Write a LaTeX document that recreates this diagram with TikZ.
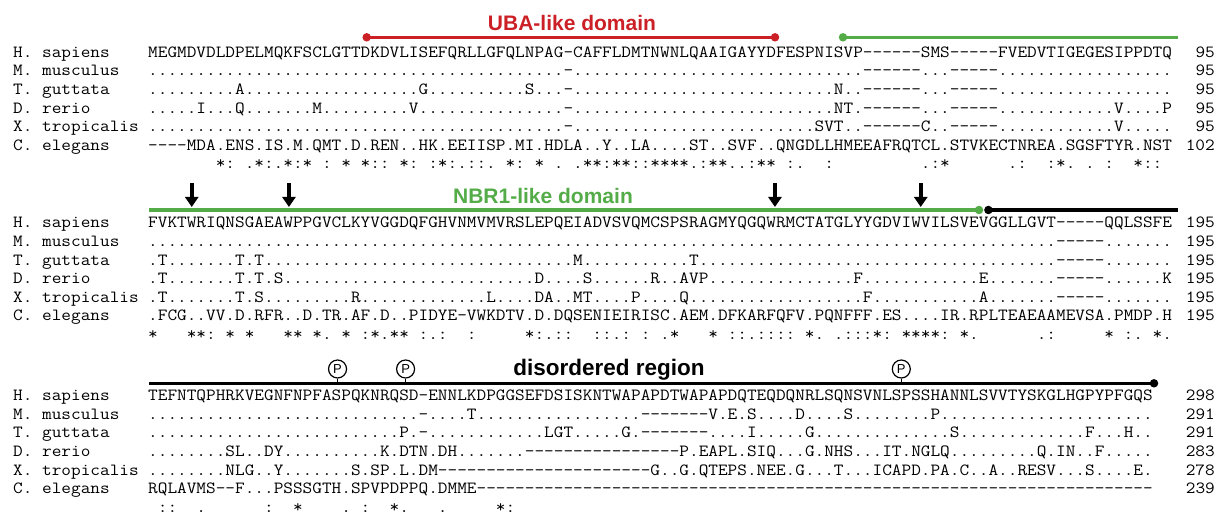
\documentclass[tikz,border=0pt]{standalone}
\usepackage{fontspec}
\setmainfont{Liberation Sans}
\setsansfont{Liberation Sans}
\setmonofont{Latin Modern Mono}[FakeStretch=1.1]
\usetikzlibrary{arrows.meta}

\definecolor{ubared}{RGB}{204,32,39}
\definecolor{nbrgreen}{RGB}{84,172,72}

% #1 copies of the character #2
\newcommand\seqrun[2]{\ifnum#1>0 #2\expandafter\seqrun\expandafter{\the\numexpr#1-1\relax}{#2}\fi}
\newcommand\dts[1]{\seqrun{#1}{.}}
\newcommand\gps[1]{\seqrun{#1}{-}}
\newcommand\sps[1]{\seqrun{#1}{~}}

% one line of the alignment: name, baseline, species, residues, last position
\newcommand\seqrow[5]{%
  \node[seqtext] (#1-sp) at (13,#2) {#3};
  \node[seqtext] (#1) at (148,#2) {#4};
  \node[seqnum] (#1-no) at (1215,#2) {#5};}

\tikzset{
  seqtext/.style={anchor=base west,inner sep=0pt,font=\ttfamily\fontsize{17.05}{18}\selectfont},
  seqnum/.style={seqtext,anchor=base east},
  domline/.style={line width=3.3pt},
  domend/.style={circle,fill,inner sep=0pt,minimum size=8.5pt},
  domlabel/.style={anchor=base,inner sep=0pt,font=\sffamily\bfseries\fontsize{21}{21}\selectfont},
  psite/.style={circle,draw,line width=1.2pt,minimum size=18pt,inner sep=0pt,font=\sffamily\fontsize{13}{13}\selectfont},
  trparrow/.style={-{Triangle[width=13pt,length=10pt]},line width=4pt}
}
\frenchspacing

\begin{document}
\begin{tikzpicture}[x=1pt,y=-1pt]
\useasboundingbox (0,0) rectangle (1223,518);

% block 1 (1-95)
\coordinate (uba-s) at (366.7,37.3);
\coordinate (uba-e) at (775,37.3);
\draw[domline,ubared] (uba-s) -- (uba-e);
\node[domend,ubared] (uba-s-dot) at (uba-s) {};
\node[domend,ubared] (uba-e-dot) at (uba-e) {};
\node[domlabel,ubared] (uba-lab) at (572,30.5) {UBA-like domain};
\coordinate (nbr-s) at (843,37.3);
\coordinate (nbr-e) at (1178,37.3);
\draw[domline,nbrgreen] (nbr-s) -- (nbr-e);
\node[domend,nbrgreen] (nbr-s-dot) at (nbr-s) {};

\seqrow{hs1}{57.3}{H. sapiens}{MEGMDVDLDPELMQKFSCLGTTDKDVLISEFQRLLGFQLNPAG-CAFFLDMTNWNLQAAIGAYYDFESPNISVP------SMS-----FVEDVTIGEGESIPPDTQ}{95}
\seqrow{mm1}{75.9}{M. musculus}{\dts{43}-\dts{30}------\dts{3}-----\dts{18}}{95}
\seqrow{tg1}{94.5}{T. guttata}{\dts{9}A\dts{18}G\dts{10}S\dts{3}-\dts{27}N..------\dts{3}-----\dts{18}}{95}
\seqrow{dr1}{113.1}{D. rerio}{\dts{5}I\dts{3}Q\dts{7}M\dts{9}V\dts{15}-\dts{27}NT.------\dts{3}-----\dts{12}V\dts{4}P}{95}
\seqrow{xt1}{131.7}{X. tropicalis}{\dts{43}-\dts{25}SVT..------C..-----\dts{12}V\dts{5}}{95}
\seqrow{ce1}{150.3}{C. elegans}{----MDA.ENS.IS.M.QMT.D.REN..HK.EEIISP.MI.HDLA..Y..LA\dts{4}ST..SVF..QNGDLLHMEEAFRQTCL.STVKECTNREA.SGSFTYR.NST}{102}
\node[seqtext] (cons1) at (148,168.9) {\sps{7}*:~.*:.*:*~:~*~*::~*:~:*:.::.~*:~*~.~.**:**::****.:**..:**~:.~~:\sps{9}.:*\sps{6}.:~~:*.~.~:~~*::};

% block 2 (96-195)
\coordinate (nbr2-s) at (149,210);
\coordinate (nbr2-e) at (979,210);
\draw[domline,nbrgreen] (nbr2-s) -- (nbr2-e);
\node[domend,nbrgreen] (nbr2-e-dot) at (nbr2-e) {};
\node[domlabel,nbrgreen] (nbr-lab) at (543,203.5) {NBR1-like domain};
\coordinate (dis-s) at (988.4,210);
\coordinate (dis-e) at (1178,210);
\draw[domline] (dis-s) -- (dis-e);
\node[domend] (dis-s-dot) at (dis-s) {};
% conserved tryptophans
\foreach \c in {5,15,65,80} {
  \coordinate (trp\c-top) at ({148+(\c-0.5)*9.72},183);
  \coordinate (trp\c) at ({148+(\c-0.5)*9.72},207);
  \draw[trparrow] (trp\c-top) -- (trp\c);
}

\begin{scope}[shift={(0,170.6)}]
\seqrow{hs2}{57.3}{H. sapiens}{FVKTWRIQNSGAEAWPPGVCLKYVGGDQFGHVNMVMVRSLEPQEIADVSVQMCSPSRAGMYQGQWRMCTATGLYYGDVIWVILSVEVGGLLGVT-----QQLSSFE}{195}
\seqrow{mm2}{75.9}{M. musculus}{\dts{94}-----\dts{7}}{195}
\seqrow{tg2}{94.5}{T. guttata}{.T\dts{7}T.T\dts{32}M\dts{11}T\dts{37}-----\dts{7}}{195}
\seqrow{dr2}{113.1}{D. rerio}{.T\dts{7}T.T.S\dts{26}D\dts{4}S\dts{6}R..AVP\dts{15}F\dts{12}E\dts{7}-----\dts{6}K}{195}
\seqrow{xt2}{131.7}{X. tropicalis}{.T\dts{7}T.S\dts{9}R\dts{13}L\dts{4}DA..MT\dts{4}P\dts{4}Q\dts{18}F\dts{11}A\dts{7}-----\dts{7}}{195}
\seqrow{ce2}{150.3}{C. elegans}{.FCG..VV.D.RFR..D.TR.AF.D..PIDYE-VWKDTV.D.DQSENIEIRISC.AEM.DFKARFQFV.PQNFFF.ES\dts{4}IR.RPLTEAEAAMEVSA.PMDP.H}{195}
\node[seqtext] (cons2) at (148,168.9) {*~~~**:~*~*~~~**~*.~*~:*.**~:.:~~:~~~~~*:.::~~::.:~:~.*~~~*~::.::::~*.~.:::*:~****:~*.~~~~~~.:~~~~~*~:.~*.};
\end{scope}

% block 3 (196-298)
\coordinate (dis2-s) at (149,383.3);
\coordinate (dis2-e) at (1154,383.3);
\draw[domline] (dis2-s) -- (dis2-e);
\node[domend] (dis2-e-dot) at (dis2-e) {};
\node[domlabel,font=\sffamily\bfseries\fontsize{22.5}{22.5}\selectfont] (dis-lab) at (609,375) {disordered region};
% phosphosites
\foreach \c in {20,27,78} {
  \node[psite] (p\c) at ({148+(\c-0.5)*9.72},369) {P};
  \coordinate (p\c-foot) at ({148+(\c-0.5)*9.72},383.3);
  \draw[line width=1.2pt] (p\c) -- (p\c-foot);
}

\begin{scope}[shift={(0,343.3)}]
\seqrow{hs3}{57.3}{H. sapiens}{TEFNTQPHRKVEGNFNPFASPQKNRQSD-ENNLKDPGGSEFDSISKNTWAPAPDTWAPAPDQTEQDQNRLSQNSVNLSPSSHANNLSVVTYSKGLHGPYPFGQS}{298}
\seqrow{mm3}{75.9}{M. musculus}{\dts{28}-\dts{4}T\dts{17}-------V.E.S\dts{4}D\dts{4}S\dts{8}P\dts{22}}{291}
\seqrow{tg3}{94.5}{T. guttata}{\dts{26}P.-\dts{12}LGT\dts{5}G.-------\dts{4}I\dts{5}G\dts{14}S\dts{13}F\dts{3}H..}{291}
\seqrow{dr3}{113.1}{D. rerio}{\dts{8}SL..DY\dts{10}K.DTN.DH\dts{7}\gps{16}P.EAPL.SIQ\dts{3}G.NHS\dts{3}IT.NGLQ\dts{9}Q.IN..F\dts{5}}{283}
\seqrow{xt3}{131.7}{X. tropicalis}{\dts{8}NLG..Y\dts{7}S.SP.L.DM\gps{22}G..G.QTEPS.NEE.G\dts{3}T\dts{3}ICAPD.PA.C..A..RESV\dts{3}S\dts{4}E.}{278}
\seqrow{ce3}{150.3}{C. elegans}{RQLAVMS--F\dts{3}PSSSGTH.SPVPDPPQ.DMME\gps{70}}{239}
\node[seqtext] (cons3) at (148,168.9) {~::~~.\sps{6}:~~*\sps{4}.~:~~*.~~~.\sps{5}*:};
\end{scope}
\end{tikzpicture}
\end{document}
